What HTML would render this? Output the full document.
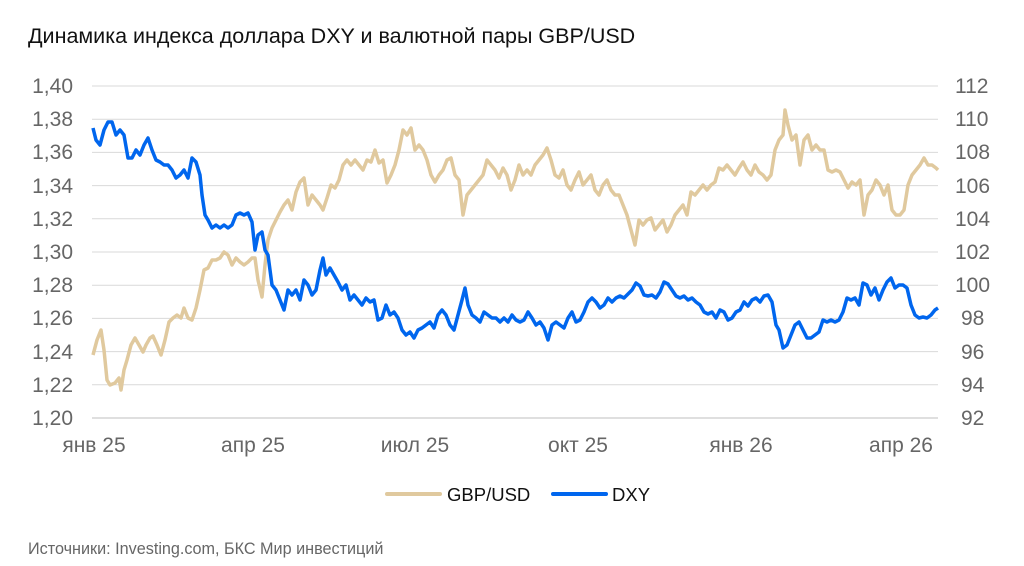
<!DOCTYPE html>
<html><head><meta charset="utf-8"><style>
body{margin:0;background:#fff;width:1024px;height:561px;overflow:hidden;font-family:"Liberation Sans",sans-serif}
</style></head><body>
<svg width="1024" height="561" xmlns="http://www.w3.org/2000/svg" font-family="Liberation Sans, sans-serif">
<text x="28" y="43" font-size="21.5" fill="#111">Динамика индекса доллара DXY и валютной пары GBP/USD</text>
<g stroke="#d9d9d9" stroke-width="1">
<line x1="92" x2="938" y1="86" y2="86"/><line x1="92" x2="938" y1="119.2" y2="119.2"/><line x1="92" x2="938" y1="152.4" y2="152.4"/><line x1="92" x2="938" y1="185.6" y2="185.6"/><line x1="92" x2="938" y1="218.8" y2="218.8"/><line x1="92" x2="938" y1="252" y2="252"/><line x1="92" x2="938" y1="285.2" y2="285.2"/><line x1="92" x2="938" y1="318.4" y2="318.4"/><line x1="92" x2="938" y1="351.6" y2="351.6"/><line x1="92" x2="938" y1="384.8" y2="384.8"/>
</g>
<line x1="92" x2="938" y1="418" y2="418" stroke="#bfbfbf"/>
<g font-size="21" fill="#666" text-anchor="end">
<text x="73" y="93">1,40</text><text x="73" y="126">1,38</text><text x="73" y="159">1,36</text><text x="73" y="193">1,34</text><text x="73" y="226">1,32</text><text x="73" y="259">1,30</text><text x="73" y="292">1,28</text><text x="73" y="325">1,26</text><text x="73" y="359">1,24</text><text x="73" y="392">1,22</text><text x="73" y="425">1,20</text>
</g>
<g font-size="21" fill="#666" text-anchor="start">
<text x="955" y="93">112</text><text x="955" y="126">110</text><text x="955" y="159">108</text><text x="955" y="193">106</text><text x="955" y="226">104</text><text x="955" y="259">102</text><text x="955" y="292">100</text><text x="961" y="325">98</text><text x="961" y="359">96</text><text x="961" y="392">94</text><text x="961" y="425">92</text>
</g>
<g font-size="21" fill="#666" text-anchor="middle">
<text x="94" y="452">янв 25</text><text x="253" y="452">апр 25</text><text x="415" y="452">июл 25</text><text x="578" y="452">окт 25</text><text x="741" y="452">янв 26</text><text x="901" y="452">апр 26</text>
</g>
<polyline fill="none" stroke="#e0c99e" stroke-width="3.5" stroke-linejoin="round" points="93,355 97,340 101,330 104,350 107,380 110,385 115,383 119,378 121,390 124,370 127,360 131,345 135,338 139,345 143,352 146,345 150,338 153,336 157,345 161,355 165,340 169,322 173,318 177,315 181,318 184,308 188,318 192,320 196,308 200,290 204,270 208,268 212,260 216,260 220,258 224,252 228,255 232,265 236,258 240,262 244,265 248,262 252,258 255,258 258,280 262,297 265,265 268,240 272,228 276,220 280,212 284,205 288,200 292,210 296,192 300,182 304,178 308,205 312,195 316,200 320,205 323,210 327,198 331,185 335,188 339,180 343,165 347,160 351,165 355,160 359,165 363,170 367,160 371,162 375,150 379,163 383,160 387,183 391,175 395,165 399,150 403,130 407,135 411,128 415,150 419,145 423,150 427,160 431,175 435,182 439,175 443,170 447,160 451,158 455,175 459,180 463,215 467,195 471,190 475,185 479,180 483,175 487,160 491,165 495,170 499,178 503,168 507,175 511,190 515,180 519,165 523,175 527,170 531,175 535,165 539,160 543,155 547,148 551,160 555,175 559,178 563,170 567,185 571,190 575,180 579,172 583,185 587,180 591,175 595,190 599,195 603,185 607,180 611,190 615,195 619,195 623,205 627,215 631,230 635,245 639,220 643,225 647,220 651,218 655,230 659,225 663,220 667,232 671,225 675,215 679,210 683,205 687,215 691,192 695,195 699,190 703,185 707,190 711,185 715,182 719,168 723,170 727,165 731,170 735,175 739,168 743,162 747,170 751,175 755,165 759,172 763,175 767,180 771,175 775,150 779,140 783,135 785,110 788,125 792,140 796,135 800,165 804,140 808,135 812,150 816,145 820,150 824,150 828,170 832,172 836,170 840,172 844,180 848,188 852,182 856,185 860,180 864,215 868,195 872,190 876,180 880,185 884,195 888,185 892,210 896,215 900,215 904,210 908,185 912,175 916,170 920,165 924,158 928,165 932,165 936,168 938,170"/>
<polyline fill="none" stroke="#0066ee" stroke-width="3.5" stroke-linejoin="round" points="93,128 96,140 100,145 104,130 108,122 112,122 116,135 120,130 124,135 128,158 132,158 136,150 140,155 144,145 148,138 152,150 156,160 160,162 164,165 168,165 172,170 176,178 180,175 184,170 188,178 192,158 196,162 200,175 202,195 205,215 208,220 212,228 216,225 220,228 224,225 228,228 232,225 236,215 240,213 244,215 248,213 252,222 255,250 258,235 262,232 265,250 268,255 272,285 276,290 280,300 284,310 288,290 292,295 296,290 300,300 304,280 308,285 312,295 316,290 320,270 323,258 326,275 330,268 334,275 338,282 342,290 346,285 350,300 354,295 358,300 362,305 366,298 370,302 374,300 378,320 382,318 386,305 390,315 394,312 398,318 402,330 406,335 410,332 414,338 418,330 422,328 426,325 430,322 434,328 438,315 442,310 446,315 450,325 454,330 458,315 462,300 465,288 468,305 472,315 476,318 480,322 484,312 488,315 492,318 496,318 500,322 504,318 508,322 512,315 516,320 520,322 524,320 528,312 532,318 536,325 540,322 544,328 548,340 552,325 556,322 560,325 564,328 568,318 572,312 576,322 580,320 584,312 588,302 592,298 596,302 600,308 604,305 608,298 612,302 616,298 620,296 624,298 628,294 632,290 636,283 640,286 644,295 648,296 652,295 656,298 660,292 664,282 668,284 672,290 676,296 680,298 684,296 688,300 692,298 696,302 700,305 704,312 708,314 712,312 716,318 720,310 724,312 728,320 732,318 736,312 740,310 744,302 748,306 752,300 756,298 760,302 764,296 768,295 772,302 776,325 779,330 783,348 787,345 791,335 795,325 799,322 803,330 807,338 811,338 815,335 819,332 823,320 827,322 831,320 835,322 839,320 843,312 847,298 851,300 855,298 859,305 863,283 867,285 871,295 875,288 879,300 883,290 887,282 891,278 895,288 899,285 903,285 907,288 911,305 915,315 919,318 923,317 927,318 931,315 935,310 938,308"/>
<line x1="387" x2="440" y1="494" y2="494" stroke="#e0c99e" stroke-width="4" stroke-linecap="round"/>
<text x="447" y="501" font-size="18.5" fill="#111">GBP/USD</text>
<line x1="553" x2="606" y1="494" y2="494" stroke="#0066ee" stroke-width="4" stroke-linecap="round"/>
<text x="612" y="501" font-size="18.5" fill="#111">DXY</text>
<text x="28" y="554" font-size="16.2" fill="#666">Источники: Investing.com, БКС Мир инвестиций</text>
</svg>
</body></html>
